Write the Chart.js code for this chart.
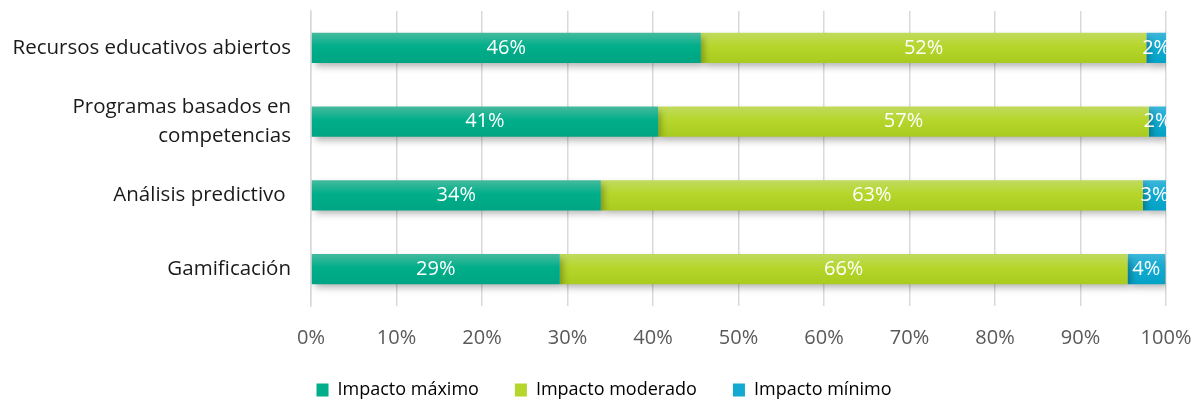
<!DOCTYPE html>
<html>
<head>
<meta charset="utf-8">
<script src="https://cdn.jsdelivr.net/npm/chart.js@4.4.1/dist/chart.umd.min.js"></script>
<style>
  html, body { margin: 0; padding: 0; background: #fff; }
  #wrap { width: 1198px; height: 402px; }
</style>
</head>
<body>
<div id="wrap"><canvas id="grafico"></canvas></div>
<script>
// datos (porcentaje de cada nivel de impacto)
const categorias = ['Recursos educativos abiertos', ['Programas basados en', 'competencias'], 'Análisis predictivo ', 'Gamificación'];
const impactoMaximo = [45.6, 40.6, 33.9, 29.1];
const impactoModerado = [52.1, 57.4, 63.4, 66.4];
const impactoMinimo = [2.3, 2.0, 2.7, 4.4];
const ticksX = [0, 10, 20, 30, 40, 50, 60, 70, 80, 90, 100];

const FUENTE = '"Open Sans", sans-serif';

// colores: [arriba, centro, abajo]
const colores = {
  max: ['#45BA9E', '#00AE8A', '#00A583'],
  mod: ['#C0DA5E', '#B6D62B', '#A9CA1F'],
  min: ['#3DB6D9', '#12AAD0', '#03A2C6']
};

function degradado(tonos) {
  return ctx => {
    const chart = ctx.chart;
    const y = chart.scales && chart.scales.y;
    if (!y || ctx.dataIndex === undefined) return tonos[1];
    const c = y.getPixelForValue(ctx.dataIndex);
    const g = chart.ctx.createLinearGradient(0, c - 15, 0, c + 15);
    g.addColorStop(0, tonos[0]);
    g.addColorStop(0.45, tonos[1]);
    g.addColorStop(1, tonos[2]);
    return g;
  };
}

// sombra debajo de las barras
const sombra = {
  id: 'sombra',
  beforeDatasetsDraw(chart) {
    const ctx = chart.ctx;
    ctx.save();
    ctx.shadowColor = 'rgba(0,0,0,0.3)';
    ctx.shadowBlur = 7;
    ctx.shadowOffsetX = 3;
    ctx.shadowOffsetY = 4;
  },
  afterDatasetsDraw(chart) {
    chart.ctx.restore();
  }
};

// etiquetas de valor centradas en cada tramo
const etiquetas = {
  id: 'etiquetas',
  afterDatasetsDraw(chart) {
    const ctx = chart.ctx;
    const area = chart.chartArea;
    ctx.save();
    ctx.beginPath();
    ctx.rect(area.left, area.top, area.right - area.left, area.bottom - area.top);
    ctx.clip();
    ctx.font = '20px ' + FUENTE;
    ctx.fillStyle = '#fff';
    ctx.textAlign = 'center';
    ctx.textBaseline = 'middle';
    chart.data.datasets.forEach((ds, i) => {
      const meta = chart.getDatasetMeta(i);
      meta.data.forEach((bar, j) => {
        const p = bar.getCenterPoint();
        ctx.fillText(Math.round(ds.data[j]) + '%', p.x, p.y);
      });
    });
    ctx.restore();
  }
};

const comun = { categoryPercentage: 0.82, barPercentage: 0.5, borderWidth: 0, borderSkipped: false };

new Chart(document.getElementById('grafico').getContext('2d'), {
  type: 'bar',
  data: {
    labels: categorias,
    datasets: [
      { label: 'Impacto máximo', data: impactoMaximo, backgroundColor: degradado(colores.max), ...comun },
      { label: 'Impacto moderado', data: impactoModerado, backgroundColor: degradado(colores.mod), ...comun },
      { label: 'Impacto mínimo', data: impactoMinimo, backgroundColor: degradado(colores.min), ...comun }
    ]
  },
  options: {
    indexAxis: 'y',
    responsive: true,
    maintainAspectRatio: false,
    animation: false,
    layout: { padding: { top: 11, right: 0, left: 10, bottom: -7 } },
    plugins: {
      legend: {
        position: 'bottom',
        labels: {
          font: { family: FUENTE, size: 18 },
          color: '#262626',
          boxWidth: 12,
          boxHeight: 13,
          padding: 36,
          generateLabels: chart => chart.data.datasets.map((ds, i) => ({
            text: ds.label,
            fillStyle: colores[['max', 'mod', 'min'][i]][1],
            strokeStyle: 'transparent',
            lineWidth: 0,
            datasetIndex: i
          }))
        }
      },
      tooltip: { enabled: false }
    },
    scales: {
      x: {
        stacked: true,
        min: 0,
        max: 100,
        afterBuildTicks: s => { s.ticks = ticksX.map(v => ({ value: v })); },
        afterFit: s => { s.height = 39; s.paddingRight = 32; s.paddingLeft = 0; },
        grid: { color: '#D9D9D9', lineWidth: 1.5, drawTicks: false },
        border: { display: false },
        ticks: {
          padding: 20,
          color: '#595959',
          font: { family: FUENTE, size: 20 },
          callback: v => v + '%'
        }
      },
      y: {
        stacked: true,
        afterFit: s => { s.width = 301; s.paddingTop = 0; s.paddingBottom = 0; },
        grid: { display: false, drawTicks: false },
        border: { display: true, color: '#D9D9D9', width: 1.5 },
        ticks: {
          padding: 20,
          color: '#1a1a1a',
          font: { family: FUENTE, size: 20.5, lineHeight: 1.4 }
        }
      }
    }
  },
  plugins: [sombra, etiquetas]
});
</script>
</body>
</html>
